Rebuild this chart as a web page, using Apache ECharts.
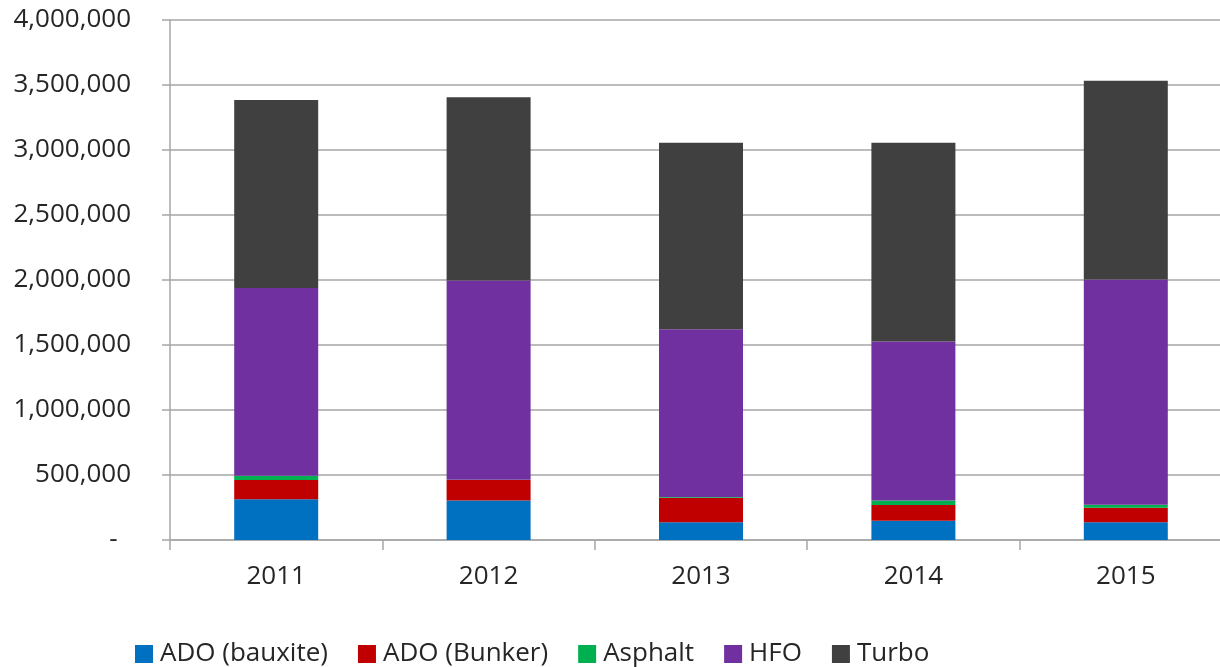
<!DOCTYPE html>
<html>
<head>
<meta charset="utf-8">
<title>Fuel volumes</title>
<script src="https://cdn.jsdelivr.net/npm/echarts@6/dist/echarts.min.js"></script>
<style>
  html, body { margin: 0; padding: 0; background: #fff; overflow: hidden; }
  #chart { width: 1232px; height: 667px; }
</style>
</head>
<body>
<div id="chart"></div>
<script>
// 数据
var years = ["2011", "2012", "2013", "2014", "2015"];
var adoBauxite = [314000, 304000, 136000, 149000, 136000];
var adoBunker = [147000, 157000, 189000, 121000, 113000];
var asphalt = [34000, 3000, 5000, 34000, 23000];
var hfo = [1443000, 1533000, 1292000, 1222000, 1731000];
var turbo = [1447000, 1408000, 1434000, 1530000, 1530000];
var yTicks = [0, 500000, 1000000, 1500000, 2000000, 2500000, 3000000, 3500000, 4000000];

var seriesNames = ["ADO (bauxite)", "ADO (Bunker)", "Asphalt", "HFO", "Turbo"];
var seriesData = [adoBauxite, adoBunker, asphalt, hfo, turbo];
var colors = ["#0070C0", "#C00000", "#00B050", "#7030A0", "#404040"];

var fontName = "Open Sans";
var textColor = "#262626";
var lineColor = "#A6A6A6";

// 千分位 0 显示为 "-"
function fmt(v) {
  if (v === 0) return "-  ";
  return String(v).replace(/\B(?=(\d{3})+(?!\d))/g, ",");
}

var series = [];
for (var i = 0; i < seriesNames.length; i++) {
  series.push({
    name: seriesNames[i],
    type: "bar",
    stack: "total",
    barWidth: 84,
    data: seriesData[i],
    itemStyle: { color: colors[i] }
  });
}

var chart = echarts.init(document.getElementById("chart"));
var option = {
  animation: false,
  color: colors,
  textStyle: { fontFamily: fontName },
  // 画布比窗口宽一点，右侧网格线伸到边缘
  grid: { left: 170, right: 0, top: 20, bottom: 127 },
  legend: {
    left: 130,
    top: 636,
    icon: "rect",
    itemWidth: 18,
    itemHeight: 18,
    itemGap: 30,
    textStyle: { fontFamily: fontName, fontSize: 26, color: textColor, padding: [0, 0, 0, 2] },
    data: seriesNames
  },
  xAxis: {
    type: "category",
    data: years,
    axisLine: { lineStyle: { color: lineColor, width: 1.5 } },
    axisTick: { show: true, length: 10, lineStyle: { color: lineColor, width: 1.5 } },
    axisLabel: { fontSize: 26, color: textColor, margin: 24, fontFamily: fontName }
  },
  yAxis: {
    type: "value",
    min: yTicks[0],
    max: yTicks[yTicks.length - 1],
    interval: yTicks[1] - yTicks[0],
    axisLine: { show: true, lineStyle: { color: lineColor, width: 1.5 } },
    axisTick: { show: true, length: 8, lineStyle: { color: lineColor, width: 1.5 } },
    splitLine: { show: true, lineStyle: { color: lineColor, width: 1.5 } },
    axisLabel: {
      fontSize: 26,
      color: textColor,
      margin: 39,
      fontFamily: fontName,
      formatter: fmt
    }
  },
  series: series
};
chart.setOption(option);
</script>
</body>
</html>
